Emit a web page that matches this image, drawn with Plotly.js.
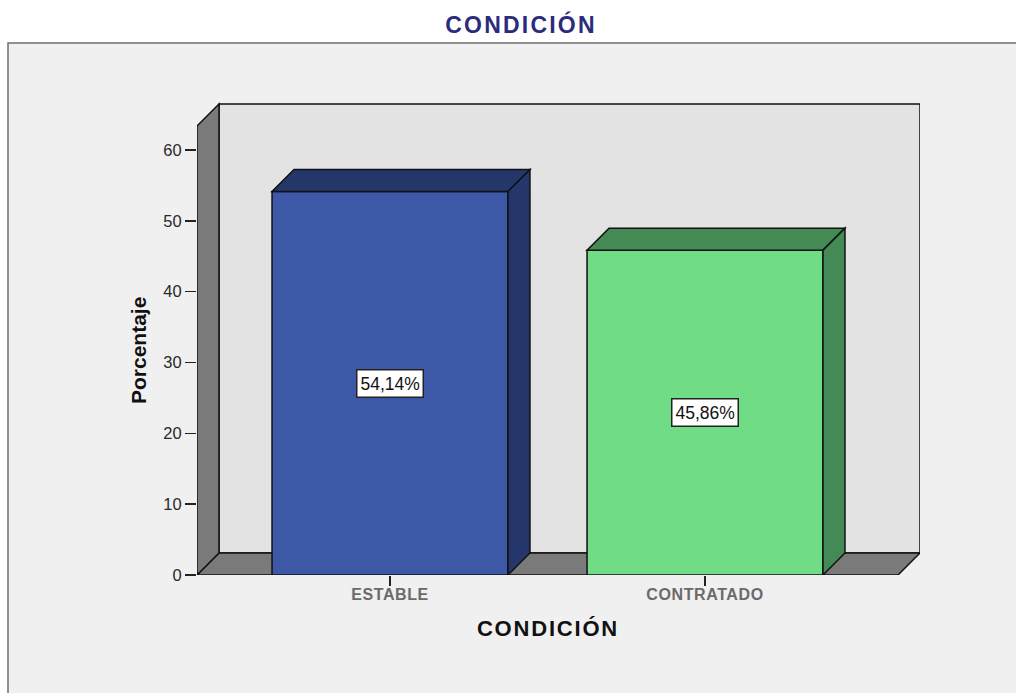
<!DOCTYPE html>
<html>
<head>
<meta charset="utf-8">
<script src="https://cdn.plot.ly/plotly-3.0.1.min.js"></script>
<style>
  html, body { margin: 0; padding: 0; background: #ffffff; }
  #chart { width: 1016px; height: 693px; }
  .gtitle { letter-spacing: 2.2px; }
  .annotation[data-index="2"] text { letter-spacing: 1.8px; }
  .xtick text { letter-spacing: 0.6px; }
</style>
</head>
<body>
<div id="chart"></div>
<script>
// ---- data ----
const categories = ["ESTABLE", "CONTRATADO"];
const percentages = [54.14, 45.86];
const yTickValues = [0, 10, 20, 30, 40, 50, 60];
const chartTitle = "CONDICIÓN";
const xAxisTitle = "CONDICIÓN";
const yAxisTitle = "Porcentaje";

// ---- styling / geometry ----
const FONT = "Liberation Sans, Arial, sans-serif";
const frontColors = ["#3e58a8", "#70dc85"];
const shadeColors = ["#25366b", "#438a54"];
const barWidth = 0.749;
const depthX = 0.0698;   // depth offset in x units
const depthY = 3.106;    // depth offset in y units
const xMin = -0.6127, xMaxFront = 1.6127, xMax = 1.6825;
const yMax = 67.06;
const wallH = 63.39;
const edge = { color: "#111111", width: 1.5 };

function poly(pts) {
  return "M " + pts.map(p => p[0] + "," + p[1]).join(" L ") + " Z";
}

const xs = categories.map((c, i) => i);

const shapes = [];
// outer frame (paper)
shapes.push({
  type: "rect", xref: "paper", yref: "paper", layer: "below",
  x0: -0.2614, x1: 1.15, y0: -0.3, y1: 1.12,
  fillcolor: "#f0f0f0", line: { color: "#6e6e6e", width: 1.5 }
});
// back wall
shapes.push({
  type: "rect", xref: "x", yref: "y", layer: "below",
  x0: xMin + depthX, x1: xMax, y0: depthY, y1: wallH + depthY,
  fillcolor: "#e3e3e3", line: edge
});
// floor
shapes.push({
  type: "path", xref: "x", yref: "y", layer: "below",
  path: poly([[xMin, 0], [xMaxFront, 0], [xMaxFront + depthX, depthY], [xMin + depthX, depthY]]),
  fillcolor: "#7a7a7a", line: edge
});
// left wall
shapes.push({
  type: "path", xref: "x", yref: "y", layer: "below",
  path: poly([[xMin, 0], [xMin, wallH], [xMin + depthX, wallH + depthY], [xMin + depthX, depthY]]),
  fillcolor: "#7a7a7a", line: edge
});
// bar top and side faces
percentages.forEach((v, i) => {
  const x0 = xs[i] - barWidth / 2, x1 = xs[i] + barWidth / 2;
  shapes.push({
    type: "path", xref: "x", yref: "y", layer: "above",
    path: poly([[x0, v], [x1, v], [x1 + depthX, v + depthY], [x0 + depthX, v + depthY]]),
    fillcolor: shadeColors[i], line: edge
  });
  shapes.push({
    type: "path", xref: "x", yref: "y", layer: "above",
    path: poly([[x1, 0], [x1, v], [x1 + depthX, v + depthY], [x1 + depthX, depthY]]),
    fillcolor: shadeColors[i], line: edge
  });
});

const annotations = percentages.map((v, i) => ({
  x: xs[i], y: v / 2, xref: "x", yref: "y",
  text: v.toFixed(2).replace(".", ",") + "%",
  showarrow: false,
  font: { family: FONT, size: 17.5, color: "#111111" },
  bgcolor: "#ffffff", bordercolor: "#222222", borderwidth: 1.5, borderpad: 3
}));
// axis titles (centred on the front face of the 3D frame)
annotations.push({
  xref: "paper", yref: "paper", x: (547.5 - 197) / 723, y: (575 - 628) / 475,
  xanchor: "center", yanchor: "middle", showarrow: false,
  text: xAxisTitle,
  font: { family: FONT, size: 22, color: "#111111", weight: "bold" }
});
annotations.push({
  xref: "paper", yref: "paper", x: (138 - 197) / 723, y: (575 - 351) / 475,
  xanchor: "center", yanchor: "middle", showarrow: false, textangle: -90,
  text: yAxisTitle,
  font: { family: FONT, size: 21, color: "#111111", weight: "bold" }
});

const trace = {
  type: "bar",
  x: xs,
  y: percentages,
  width: barWidth,
  marker: { color: frontColors, line: edge },
  hoverinfo: "skip"
};

const layout = {
  width: 1016, height: 693,
  margin: { l: 197, r: 96, t: 100, b: 118, pad: 0 },
  paper_bgcolor: "#ffffff",
  plot_bgcolor: "rgba(0,0,0,0)",
  showlegend: false,
  font: { family: FONT },
  title: {
    text: chartTitle,
    xref: "container", yref: "container",
    x: 521 / 1016, y: 1 - 25 / 693, xanchor: "center", yanchor: "middle",
    font: { family: FONT, size: 23, color: "#2b2b7b", weight: "bold" }
  },
  xaxis: {
    type: "linear",
    range: [xMin, xMax],
    tickvals: xs, ticktext: categories,
    ticks: "outside", ticklen: 10, tickcolor: "#222222", tickwidth: 1.5,
    ticklabelstandoff: -5,
    showgrid: false, zeroline: false, showline: false,
    tickfont: { family: FONT, size: 16, color: "#6a6a6a", weight: "bold" },
    fixedrange: true
  },
  yaxis: {
    range: [0, yMax],
    tickvals: yTickValues,
    ticks: "outside", ticklen: 11, tickcolor: "#222222", tickwidth: 1.5,
    showgrid: false, zeroline: false, showline: false,
    tickfont: { family: FONT, size: 16.5, color: "#2a2a2a" },
    fixedrange: true
  },
  shapes: shapes,
  annotations: annotations,
  bargap: 0
};

Plotly.newPlot("chart", [trace], layout, { displayModeBar: false, staticPlot: true });
</script>
</body>
</html>
